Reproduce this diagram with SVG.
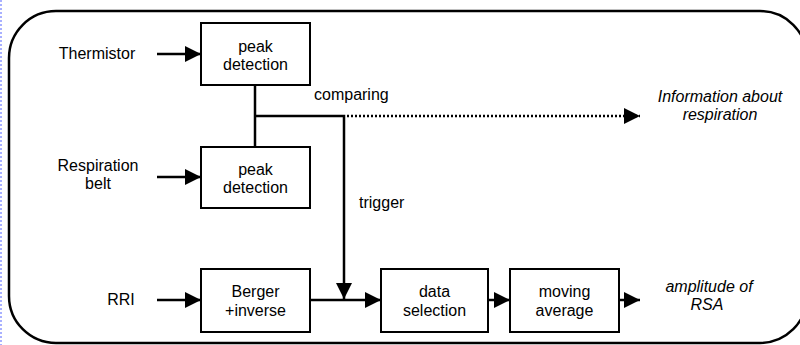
<svg xmlns="http://www.w3.org/2000/svg" width="800" height="345" viewBox="0 0 800 345">
<style>
.box{fill:#fff;stroke:#000;stroke-width:2}
.t{font-family:"Liberation Sans",Arial,sans-serif;font-size:16px;fill:#000}
.c{text-anchor:middle}
.i{font-style:italic}
.ln{fill:none;stroke:#000;stroke-width:2.5}
.dot{stroke-dasharray:2 2}
</style>
<defs>
<marker id="ah" markerUnits="userSpaceOnUse" markerWidth="16" markerHeight="16" refX="16" refY="8" orient="auto">
<path d="M0,0 L16,8 L0,16 Z" fill="#000"/>
</marker>
</defs>
<rect width="800" height="345" fill="#fff"/>
<line x1="1" y1="0" x2="1" y2="345" stroke="#a8b0ff" stroke-width="2" stroke-dasharray="2 2"/>
<rect id="frame" x="9" y="11" width="798" height="332" rx="47" ry="47" fill="none" stroke="#000" stroke-width="2.5"/>

<g id="connectors">
<line class="ln" x1="157" y1="54" x2="201" y2="54" marker-end="url(#ah)"/>
<line class="ln" x1="157" y1="177" x2="201" y2="177" marker-end="url(#ah)"/>
<line class="ln" x1="157" y1="300" x2="201" y2="300" marker-end="url(#ah)"/>
<line class="ln" x1="255" y1="85" x2="255" y2="147"/>
<polyline class="ln" points="255,116 344,116 344,299" marker-end="url(#ah)"/>
<line class="ln dot" x1="347" y1="116" x2="640" y2="116" marker-end="url(#ah)"/>
<line class="ln" x1="310" y1="300" x2="381" y2="300" marker-end="url(#ah)"/>
<line class="ln" x1="488" y1="300" x2="510" y2="300" marker-end="url(#ah)"/>
<line class="ln" x1="619" y1="300" x2="640" y2="300" marker-end="url(#ah)"/>
<text class="t" x="314" y="100">comparing</text>
<text class="t" x="359" y="208">trigger</text>
</g>

<g id="thermistor"><text class="t c" x="97" y="59">Thermistor</text></g>
<g id="belt"><text class="t c" x="98" y="171">Respiration</text><text class="t c" x="98" y="189">belt</text></g>
<g id="rri"><text class="t c" x="121" y="305">RRI</text></g>

<g id="peak1"><rect class="box" x="201" y="23" width="109" height="62"/>
<text class="t c" x="255.5" y="52">peak</text><text class="t c" x="255.5" y="70">detection</text></g>
<g id="peak2"><rect class="box" x="201" y="147" width="109" height="61"/>
<text class="t c" x="255.5" y="175">peak</text><text class="t c" x="255.5" y="193">detection</text></g>
<g id="berger"><rect class="box" x="201" y="269" width="109" height="63"/>
<text class="t c" x="255.5" y="297">Berger</text><text class="t c" x="255.5" y="316">+inverse</text></g>
<g id="datasel"><rect class="box" x="381" y="269" width="107" height="63"/>
<text class="t c" x="434.5" y="297">data</text><text class="t c" x="434.5" y="316">selection</text></g>
<g id="movavg"><rect class="box" x="510" y="269" width="109" height="63"/>
<text class="t c" x="564.5" y="297">moving</text><text class="t c" x="564.5" y="316">average</text></g>

<g id="info"><text class="t c i" x="720" y="102">Information about</text><text class="t c i" x="720" y="120">respiration</text></g>
<g id="rsa"><text class="t c i" x="709" y="292">amplitude of</text><text class="t c i" x="707" y="310">RSA</text></g>
</svg>
